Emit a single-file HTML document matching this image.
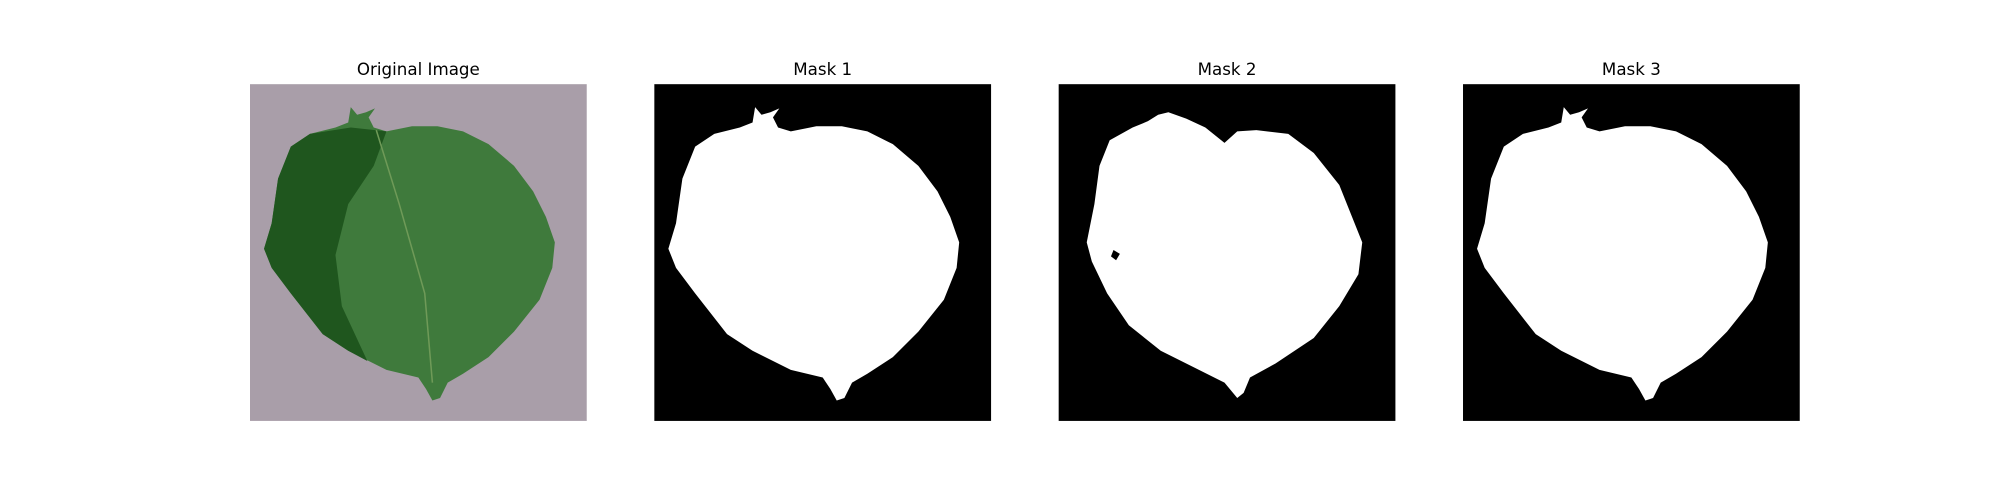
<!DOCTYPE html>
<html><head><meta charset="utf-8"><style>
html,body{margin:0;padding:0;background:#fff;}
svg{display:block;}
text{font-family:"DejaVu Sans","Liberation Sans",sans-serif;font-size:13.1px;fill:#000;}
</style></head><body>
<svg width="2000" height="500" viewBox="0 0 1568 392">
<defs>
<path id="leafA" d="M592,84 L597,90 L604,88 L611,85 L606,92 L610,100 L620,103 L640,99 L660,99 L680,103 L700,113 L720,130 L735,150 L745,170 L752,190 L750,210 L740,235 L720,260 L700,280 L680,293 L668,300 L662,312 L656,314 L651,305 L645,296 L620,290 L590,275 L570,262 L545,230 L530,210 L524,195 L530,175 L535,140 L545,115 L560,105 L580,100 L590,96 Z"/>
</defs>
<g>
<text x="328" y="59" text-anchor="middle">Original Image</text>
<rect x="196" y="66" width="264" height="264" fill="#a99ea9"/>
<g transform="translate(-317,0)">
<use href="#leafA" fill="#3f7a3c"/>
<path d="M592,100 L560,105 L545,115 L535,140 L530,175 L524,195 L530,210 L545,230 L570,262 L590,275 L605,283 L585,240 L580,200 L590,160 L610,130 L620,103 Z" fill="#1f561e"/>
<path d="M612,102 L630,160 L650,230 L656,300" stroke="#6f9a58" stroke-width="1.2" fill="none"/>
</g>
</g>
<g>
<text x="645" y="59" text-anchor="middle">Mask 1</text>
<rect x="513" y="66" width="264" height="264" fill="#000"/>
<use href="#leafA" fill="#fff"/>
</g>
<g>
<text x="962" y="59" text-anchor="middle">Mask 2</text>
<rect x="830" y="66" width="264" height="264" fill="#000"/>
<path d="M908,90 L916,88 L930,93 L945,100 L960,112 L970,103 L985,102 L1010,105 L1030,120 L1050,145 L1060,170 L1068,190 L1065,215 L1050,240 L1030,265 L1000,285 L980,296 L975,308 L970,312 L960,300 L940,290 L910,275 L885,255 L868,230 L856,205 L852,190 L858,160 L862,130 L870,110 L888,100 L900,95 Z" fill="#fff"/>
<path d="M873,196 L878,199 L875,204 L871,201 Z" fill="#000"/>
</g>
<g>
<text x="1279" y="59" text-anchor="middle">Mask 3</text>
<rect x="1147" y="66" width="264" height="264" fill="#000"/>
<use href="#leafA" fill="#fff" transform="translate(634,0)"/>
</g>
</svg>
</body></html>
